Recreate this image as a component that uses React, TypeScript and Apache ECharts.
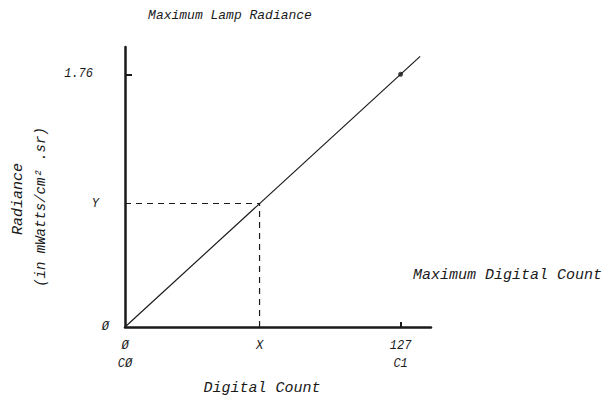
import React, { useEffect, useRef } from "react";
import * as echarts from "echarts";

// Data
const lineX = [0, 136];
const lineY = [0, 1.885];
const maxPoint = [127, 1.76];
const crossX = 62;
const crossY = 0.86;
const xTickValues = [0, 62, 127];
const xTickLabels = ["Ø\nCØ", "X", "127\nC1"];
const yTickValues = [0, 0.86, 1.76];
const yTickLabels = ["Ø", "Y", "1.76"];
const xMajorTicks = [127];
const yMajorTicks = [1.76];

const FONT = "Liberation Mono";
const INK = "#1a1a1a";

export default function App() {
  const ref = useRef<HTMLDivElement>(null);
  useEffect(() => {
    if (!ref.current) return;
    const chart = echarts.init(ref.current, null, { renderer: "svg" });
    const yRich: Record<string, any> = {
      a: { fontFamily: FONT, fontStyle: "italic", fontSize: 12, color: INK, padding: [0, 16, 0, 0] },
      b: { fontFamily: FONT, fontStyle: "italic", fontSize: 12, color: INK, padding: [0, 10, 0, 0] },
      c: { fontFamily: FONT, fontStyle: "italic", fontSize: 12, color: INK, padding: [0, 0, 0, 0] },
    };
    const yKeys = ["c", "b", "a"];
    chart.setOption({
      animation: false,
      backgroundColor: "#ffffff",
      grid: {
        left: 125,
        top: 47,
        right: 176,
        bottom: 75,
        containLabel: false,
        outerBoundsMode: "none",
      },
      xAxis: {
        type: "value",
        min: 0,
        max: 141,
        splitLine: { show: false },
        axisLine: { show: true, onZero: false, lineStyle: { color: INK, width: 2.5 } },
        axisTick: {
          show: true,
          inside: true,
          length: 5,
          customValues: xMajorTicks,
          lineStyle: { color: INK, width: 2 },
        },
        axisLabel: {
          show: true,
          customValues: xTickValues,
          margin: 10,
          fontFamily: FONT,
          fontStyle: "italic",
          fontSize: 12,
          lineHeight: 18,
          color: INK,
          formatter: (v: number) => {
            const i = xTickValues.indexOf(v);
            return i >= 0 ? xTickLabels[i] : "";
          },
        },
      },
      yAxis: {
        type: "value",
        min: 0,
        max: 1.95,
        splitLine: { show: false },
        axisLine: { show: true, onZero: false, lineStyle: { color: INK, width: 2.5 } },
        axisTick: {
          show: true,
          inside: true,
          length: 7,
          customValues: yMajorTicks,
          lineStyle: { color: INK, width: 2 },
        },
        axisLabel: {
          show: true,
          customValues: yTickValues,
          margin: 16,
          fontFamily: FONT,
          fontStyle: "italic",
          fontSize: 12,
          color: INK,
          rich: yRich,
          formatter: (v: number) => {
            const i = yTickValues.indexOf(v);
            return i >= 0 ? `{${yKeys[i]}|${yTickLabels[i]}}` : "";
          },
        },
      },
      series: [
        {
          type: "line",
          data: lineX.map((x, i) => [x, lineY[i]]),
          symbol: "none",
          lineStyle: { color: INK, width: 1.2 },
          silent: true,
        },
        {
          type: "scatter",
          data: [maxPoint],
          symbolSize: 5,
          itemStyle: { color: INK },
          silent: true,
        },
        {
          type: "line",
          data: [
            [0, crossY],
            [crossX, crossY],
          ],
          symbol: "none",
          lineStyle: { color: INK, width: 1.2, type: [6, 5] },
          silent: true,
        },
        {
          type: "line",
          data: [
            [crossX, 0],
            [crossX, crossY],
          ],
          symbol: "none",
          lineStyle: { color: INK, width: 1.2, type: [6, 5] },
          silent: true,
        },
      ],
      graphic: [
        {
          type: "text",
          x: 230,
          y: 15,
          style: {
            text: "Maximum Lamp Radiance",
            fontFamily: FONT,
            fontStyle: "italic",
            fontSize: 13,
            fill: INK,
            align: "center",
            verticalAlign: "middle",
          },
        },
        {
          type: "text",
          x: 413,
          y: 275,
          style: {
            text: "Maximum Digital Count",
            fontFamily: FONT,
            fontStyle: "italic",
            fontSize: 15,
            fill: INK,
            align: "left",
            verticalAlign: "middle",
          },
        },
        {
          type: "text",
          x: 262,
          y: 388,
          style: {
            text: "Digital Count",
            fontFamily: FONT,
            fontStyle: "italic",
            fontSize: 15,
            fill: INK,
            align: "center",
            verticalAlign: "middle",
          },
        },
        {
          type: "text",
          x: 18,
          y: 199,
          rotation: Math.PI / 2,
          style: {
            text: "Radiance",
            fontFamily: FONT,
            fontStyle: "italic",
            fontSize: 15,
            fill: INK,
            align: "center",
            verticalAlign: "middle",
          },
        },
        {
          type: "text",
          x: 41,
          y: 207,
          rotation: Math.PI / 2,
          style: {
            text: "(in mWatts/cm² .sr)",
            fontFamily: FONT,
            fontStyle: "italic",
            fontSize: 14,
            fill: INK,
            align: "center",
            verticalAlign: "middle",
          },
        },
      ],
    });
    return () => chart.dispose();
  }, []);
  return (
    <div
      ref={ref}
      style={{ position: "fixed", left: 0, top: 0, width: 607, height: 402 }}
    />
  );
}
